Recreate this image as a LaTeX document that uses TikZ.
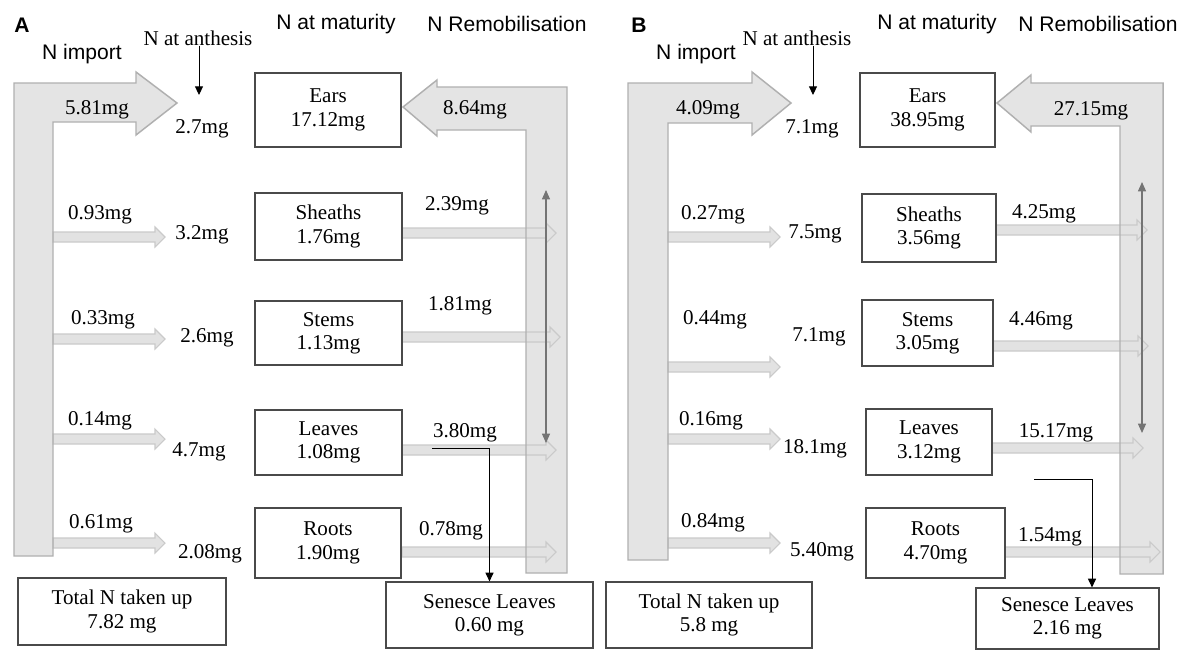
\documentclass[tikz,border=0pt]{standalone}
\usepackage{fontspec}
\setmainfont{Liberation Serif}
\setsansfont{Liberation Sans}
\usetikzlibrary{arrows.meta}
\definecolor{boxc}{HTML}{4A4A4A}
\definecolor{bigfill}{HTML}{E4E4E4}
\definecolor{bigdraw}{HTML}{B0B0B0}
\definecolor{smfill}{HTML}{E2E2E2}
\definecolor{smdraw}{HTML}{CACACA}
\definecolor{thinc}{HTML}{747474}
\newcommand{\smallarr}[3]{\filldraw[smallarrow] ({#1},{#3-5}) -- ({#2-10},{#3-5}) -- ({#2-10},{#3-10}) -- ({#2},{#3}) -- ({#2-10},{#3+10}) -- ({#2-10},{#3+5}) -- ({#1},{#3+5}) -- cycle;}
\tikzset{
  val/.style={font=\fontsize{15.8}{17.5}\selectfont, inner sep=0pt},
  hdr/.style={font=\sffamily\fontsize{15.8}{17.5}\selectfont, inner sep=0pt},
  panel/.style={font=\sffamily\bfseries\fontsize{15.8}{17.5}\selectfont, inner sep=0pt},
  box/.style={draw=boxc, line width=0.9pt, inner sep=0pt, align=center, font=\fontsize{15.8}{17.5}\selectfont},
  bigarrow/.style={fill=bigfill},
  bigline/.style={draw=bigdraw, line width=1.1pt, line join=miter},
  smallarrow/.style={fill=smfill, draw=smdraw, line width=0.8pt},
  blackarr/.style={-{Triangle[length=6.5pt,width=6pt]}, line width=0.7pt, black},
  grayarr/.style={{Triangle[length=7pt,width=6pt]}-{Triangle[length=7pt,width=6pt]}, line width=0.8pt, thinc},
}
\begin{document}
\begin{tikzpicture}[x=0.75pt,y=-0.75pt]
\useasboundingbox (0,0) rectangle (1195,650);
\fill[white] (0,0) rectangle (1195,650);

% ---------------- big arrows (fill) ----------------
\fill[bigarrow] (14,556) -- (14,83) -- (136,83) -- (136,72) -- (177,103) -- (136,135) -- (136,122) -- (53,122) -- (53,556) -- cycle;
\fill[bigarrow] (403,107) -- (437,80) -- (437,87) -- (567,87) -- (567,573) -- (526,573) -- (526,130) -- (437,130) -- (437,136) -- cycle;
\fill[bigarrow] (628,560) -- (628,83) -- (752,83) -- (752,72) -- (791,103) -- (752,135) -- (752,123) -- (668,123) -- (668,560) -- cycle;
\fill[bigarrow] (997,103) -- (1031,75) -- (1031,83) -- (1163,83) -- (1163,574) -- (1120,574) -- (1120,126) -- (1031,126) -- (1031,132) -- cycle;

% ---------------- small arrows ----------------
\smallarr{53}{165}{237}
\smallarr{53}{165}{339}
\smallarr{53}{165}{439}
\smallarr{53}{165}{543}
\smallarr{402}{556}{233}
\smallarr{402}{560}{337}
\smallarr{402}{556}{450}
\smallarr{402}{556}{552}

\smallarr{668}{780}{237}
\smallarr{668}{780}{367}
\smallarr{668}{780}{439}
\smallarr{668}{780}{543}
\smallarr{996}{1147}{230}
\smallarr{993}{1148}{346}
\smallarr{992}{1143}{448}
\smallarr{1005}{1160}{552}

% ---------------- big arrows (outline) ----------------
\draw[bigline] (14,556) -- (14,83) -- (136,83) -- (136,72) -- (177,103) -- (136,135) -- (136,122) -- (53,122) -- (53,556) -- cycle;
\draw[bigline] (403,107) -- (437,80) -- (437,87) -- (567,87) -- (567,573) -- (526,573) -- (526,130) -- (437,130) -- (437,136) -- cycle;
\draw[bigline] (628,560) -- (628,83) -- (752,83) -- (752,72) -- (791,103) -- (752,135) -- (752,123) -- (668,123) -- (668,560) -- cycle;
\draw[bigline] (997,103) -- (1031,75) -- (1031,83) -- (1163,83) -- (1163,574) -- (1120,574) -- (1120,126) -- (1031,126) -- (1031,132) -- cycle;

% ---------------- panel A ----------------
\node[panel] (labA) at (22,25) {A};
\node[hdr] (impA) at (82,54) {N import};
\node[val] (antA) at (198,38) {N at anthesis};
\node[hdr] (matA) at (336,24) {N at maturity};
\node[hdr] (remA) at (507,24) {N Remobilisation};

\node[val] (a27) at (202,129) {2.7mg};
\node[val] (i581) at (97,110) {5.81mg};
\node[val] (r864) at (475,110) {8.64mg};
\node[val] (i093) at (100,215) {0.93mg};
\node[val] (a32) at (202,235) {3.2mg};
\node[val] (i033) at (103,320) {0.33mg};
\node[val] (a26) at (207,338) {2.6mg};
\node[val] (i014) at (100,421) {0.14mg};
\node[val] (a47) at (199,452) {4.7mg};
\node[val] (i061) at (101,524) {0.61mg};
\node[val] (a208) at (210,554) {2.08mg};
\node[val] (r239) at (457,206) {2.39mg};
\node[val] (r181) at (460,306) {1.81mg};
\node[val] (r380) at (465,433) {3.80mg};
\node[val] (r078) at (451,531) {0.78mg};

\node[box, minimum width=109.5pt, minimum height=55.5pt] (earsA) at (328,110) {Ears\\17.12mg};
\node[box, minimum width=110.25pt, minimum height=50.25pt] (sheA) at (328.5,226.5) {Sheaths\\1.76mg};
\node[box, minimum width=110.25pt, minimum height=48pt] (stmA) at (328.5,333) {Stems\\1.13mg};
\node[box, minimum width=110.25pt, minimum height=48.75pt] (lvsA) at (328.5,442.5) {Leaves\\1.08mg};
\node[box, minimum width=109.5pt, minimum height=52.5pt] (rtsA) at (328,543) {Roots\\1.90mg};
\node[box, minimum width=156pt, minimum height=50.25pt] (totA) at (122,611.5) {Total N taken up\\7.82 mg};
\node[box, minimum width=155.25pt, minimum height=49.5pt] (senA) at (489.5,615) {Senesce Leaves\\0.60 mg};

\coordinate (antAend) at (199,95);
\draw[blackarr] (antA.south -| antAend) -- (antAend);
\coordinate (senAstart) at (432,448);
\draw[blackarr] (senAstart) -| (senA.north);
\coordinate (gA1) at (546,190);
\coordinate (gA2) at (546,443);
\draw[grayarr] (gA1) -- (gA2);

% ---------------- panel B ----------------
\node[panel] (labB) at (639,25) {B};
\node[hdr] (impB) at (696,54) {N import};
\node[val] (antB) at (797,38) {N at anthesis};
\node[hdr] (matB) at (937,24) {N at maturity};
\node[hdr] (remB) at (1098,24) {N Remobilisation};

\node[val] (b71) at (812,129) {7.1mg};
\node[val] (i409) at (708,110) {4.09mg};
\node[val] (r2715) at (1091,111) {27.15mg};
\node[val] (i027) at (713,215) {0.27mg};
\node[val] (b75) at (815,234) {7.5mg};
\node[val] (i044) at (715,320) {0.44mg};
\node[val] (b71s) at (819,337) {7.1mg};
\node[val] (i016) at (711,421) {0.16mg};
\node[val] (b181) at (815,449) {18.1mg};
\node[val] (i084) at (713,523) {0.84mg};
\node[val] (b540) at (822,552) {5.40mg};
\node[val] (r425) at (1044,214) {4.25mg};
\node[val] (r446) at (1041,321) {4.46mg};
\node[val] (r1517) at (1056,433) {15.17mg};
\node[val] (r154) at (1050,537) {1.54mg};

\node[box, minimum width=101.25pt, minimum height=55.5pt] (earsB) at (927.5,110) {Ears\\38.95mg};
\node[box, minimum width=100.5pt, minimum height=51pt] (sheB) at (929,228) {Sheaths\\3.56mg};
\node[box, minimum width=98.25pt, minimum height=49.5pt] (stmB) at (927.5,333) {Stems\\3.05mg};
\node[box, minimum width=94.5pt, minimum height=49.5pt] (lvsB) at (929,442) {Leaves\\3.12mg};
\node[box, minimum width=104.25pt, minimum height=52.5pt] (rtsB) at (935.5,543) {Roots\\4.70mg};
\node[box, minimum width=154.5pt, minimum height=49.5pt] (totB) at (709,615) {Total N taken up\\5.8 mg};
\node[box, minimum width=137.25pt, minimum height=45.75pt] (senB) at (1067.5,618.5) {Senesce Leaves\\2.16 mg};

\coordinate (antBend) at (813,95);
\draw[blackarr] (antB.south -| antBend) -- (antBend);
\coordinate (senBstart) at (1034,479);
\coordinate (senBx) at (1092,0);
\draw[blackarr] (senBstart) -| (senB.north -| senBx);
\coordinate (gB1) at (1142,182);
\coordinate (gB2) at (1142,433);
\draw[grayarr] (gB1) -- (gB2);
\end{tikzpicture}
\end{document}
